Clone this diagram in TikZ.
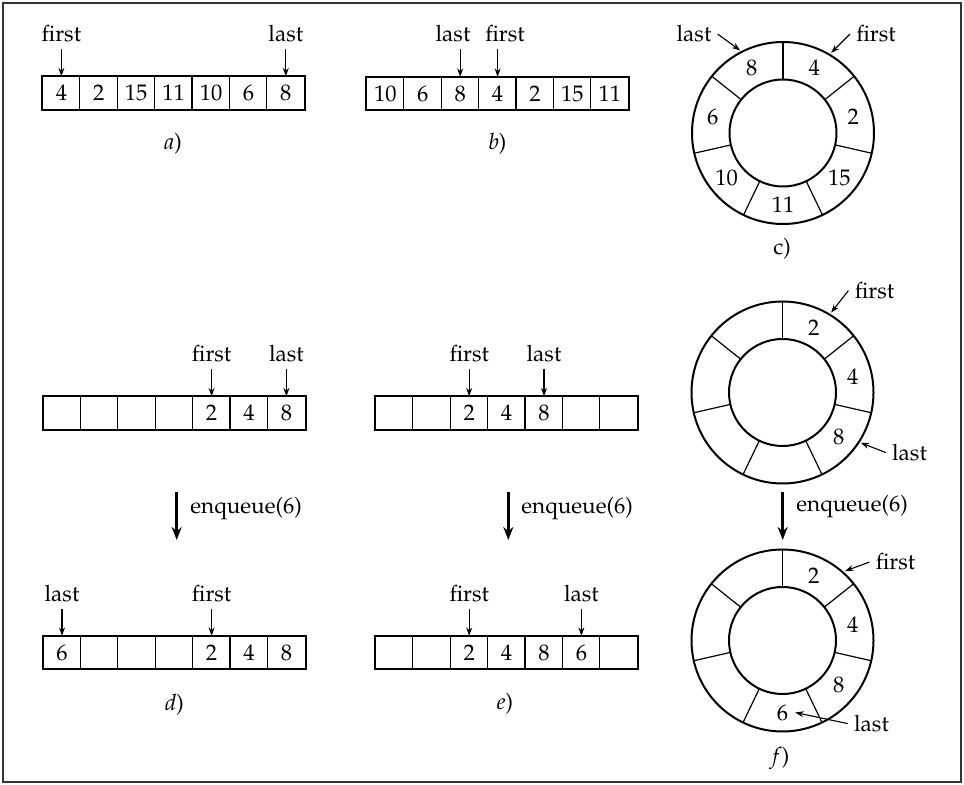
\documentclass[tikz,border=0pt]{standalone}
\usepackage[T1]{fontenc}
\usepackage{mathpazo}
\usetikzlibrary{arrows.meta,calc}

\tikzset{
  cell/.style={minimum width=18.7pt, minimum height=16.3pt, inner sep=0pt},
  divider/.style={line width=0.6pt},
  rowframe/.style={line width=1pt},
  ptrlabel/.style={inner sep=3pt, anchor=base},
  ptr/.style={-{Stealth[length=4.2pt,width=3pt]}, line width=0.55pt},
  enq/.style={-{Stealth[length=6.5pt,width=5pt]}, line width=1.6pt},
  enqlabel/.style={anchor=west, inner sep=0pt},
  ring/.style={line width=1pt},
  spoke/.style={line width=0.6pt},
  caption/.style={anchor=base, inner sep=0pt},
  frame/.style={line width=0.8pt, draw=black!80},
}

% array of seven cells: name prefix, left x, centre y, values
\newcommand\qarray[4]{%
  \foreach \v [count=\i] in {#4}
    \node[cell] (#1\i) at ({#2+18.7+(\i-1)*37.4}, #3) {\v};
  \foreach \i in {2,...,7}
    \draw[divider] (#1\i.north west) -- (#1\i.south west);
  \draw[rowframe] (#11.north west) rectangle (#17.south east);
}

% circular buffer of seven slots: name, centre, values (clockwise from top)
\newcommand\qring[3]{%
  \coordinate (#1) at (#2);
  \draw[ring] (#1) circle[radius=91];
  \draw[ring] (#1) circle[radius=53.5];
  \foreach \k in {0,...,6}
    \draw[spoke] ($(#1)+({90-\k*360/7}:53.5)$) -- ($(#1)+({90-\k*360/7}:91)$);
  \foreach \v [count=\i] in {#3}
    \node (#1\i) at ($(#1)+({90-(\i-0.5)*360/7}:72)$) {\v};
}

\begin{document}
\begin{tikzpicture}[x=0.5pt, y=0.5pt, font=\fontsize{11.25}{13.5}\selectfont]
\useasboundingbox (0,0) rectangle (964,-785);
\draw[frame] (3,-3) rectangle (961,-782);

% a) linear array, full
\qarray{a}{42.7}{-93}{4,2,15,11,10,6,8}
\node[ptrlabel] (aF) at (a1 |- 0,-42) {first};
\node[ptrlabel] (aL) at (a7 |- 0,-42) {last};
\draw[ptr] (aF.south) -- (a1.north);
\draw[ptr] (aL.south) -- (a7.north);
\node[caption] (capA) at (173,-150) {\textit{a})};

% b) wrapped array
\qarray{b}{366.7}{-93.5}{10,6,8,4,2,15,11}
\node[ptrlabel] (bL) at (453,-42) {last};
\node[ptrlabel] (bF) at (505,-42) {first};
\draw[ptr] (b3 |- bL.south) -- (b3.north);
\draw[ptr] (b4 |- bF.south) -- (b4.north);
\node[caption] (capB) at (497.5,-150) {\textit{b})};

% c) ring
\qring{c}{783,-133}{4,2,15,11,10,6,8}
\node[ptrlabel] (cL) at (694,-42) {last};
\node[ptrlabel] (cF) at (876,-42) {first};
\coordinate (cLtip) at ($(c)+(117.4:93)$);
\coordinate (cFtip) at ($(c)+(59:93.5)$);
\draw[ptr] (cL.east) -- (cLtip);
\draw[ptr] (cF.west) -- (cFtip);
\node[caption] (capC) at (782,-255) {c)};

% d) enqueue wraps to the front
\qarray{d}{43.3}{-413}{{},{},{},{},2,4,8}
\node[ptrlabel] (dF) at (d5 |- 0,-362) {first};
\node[ptrlabel] (dL) at (d7 |- 0,-362) {last};
\draw[ptr] (dF.south) -- (d5.north);
\draw[ptr] (dL.south) -- (d7.north);
\coordinate (dQs) at (176.7,-492);
\coordinate (dQe) at (176.7,-540);
\draw[enq] (dQs) -- (dQe);
\node[enqlabel] (dQt) at (190,-509) {enqueue(6)};
\qarray{g}{43.3}{-652.5}{6,{},{},{},2,4,8}
\node[ptrlabel] (gL) at (g1 |- 0,-601.7) {last};
\node[ptrlabel] (gF) at (g5 |- 0,-601.7) {first};
\draw[ptr] (gL.south) -- (g1.north);
\draw[ptr] (gF.south) -- (g5.north);
\node[caption] (capD) at (174.5,-711) {\textit{d})};

% e) enqueue in the middle
\qarray{e}{375.7}{-413}{{},{},2,4,8,{},{}}
\node[ptrlabel] (eF) at (e3 |- 0,-362) {first};
\node[ptrlabel] (eL) at (e5 |- 0,-362) {last};
\draw[ptr] (eF.south) -- (e3.north);
\draw[ptr] (eL.south) -- (e5.north);
\coordinate (eQs) at (508.3,-492);
\coordinate (eQe) at (508.3,-540);
\draw[enq] (eQs) -- (eQe);
\node[enqlabel] (eQt) at (521,-509) {enqueue(6)};
\qarray{h}{375.7}{-652.5}{{},{},2,4,8,6,{}}
\node[ptrlabel] (hF) at (h3 |- 0,-601.7) {first};
\node[ptrlabel] (hL) at (h6 |- 0,-601.7) {last};
\draw[ptr] (hF.south) -- (h3.north);
\draw[ptr] (hL.south) -- (h6.north);
\node[caption] (capE) at (505,-710) {\textit{e})};

% f) ring before and after enqueue
\qring{u}{782.5,-392.5}{2,4,8,{},{},{},{}}
\node[ptrlabel] (uF) at (874.5,-298.5) {first};
\node[ptrlabel] (uL) at (909.5,-460.5) {last};
\coordinate (uFtip) at ($(u)+(58.7:93.5)$);
\coordinate (uLtip) at ($(u)+(-32.7:93)$);
\draw[ptr] (uF.west) -- (uFtip);
\draw[ptr] (uL.west) -- (uLtip);
\coordinate (fQs) at (782.7,-492);
\coordinate (fQe) at (782.7,-540);
\draw[enq] (fQs) -- (fQe);
\node[enqlabel] (fQt) at (796,-507) {enqueue(6)};
\qring{w}{782.5,-640.5}{2,4,8,6,{},{},{}}
\node[ptrlabel] (wF) at (895.5,-570) {first};
\node[ptrlabel] (wL) at (871.5,-731.5) {last};
\coordinate (wFtip) at ($(w)+(48:93.5)$);
\draw[ptr] (wF.west) -- (wFtip);
\draw[ptr] (wL.west) -- (w4.east);
\node[caption] (capF) at (781,-763) {\textit{f})};
\end{tikzpicture}
\end{document}
